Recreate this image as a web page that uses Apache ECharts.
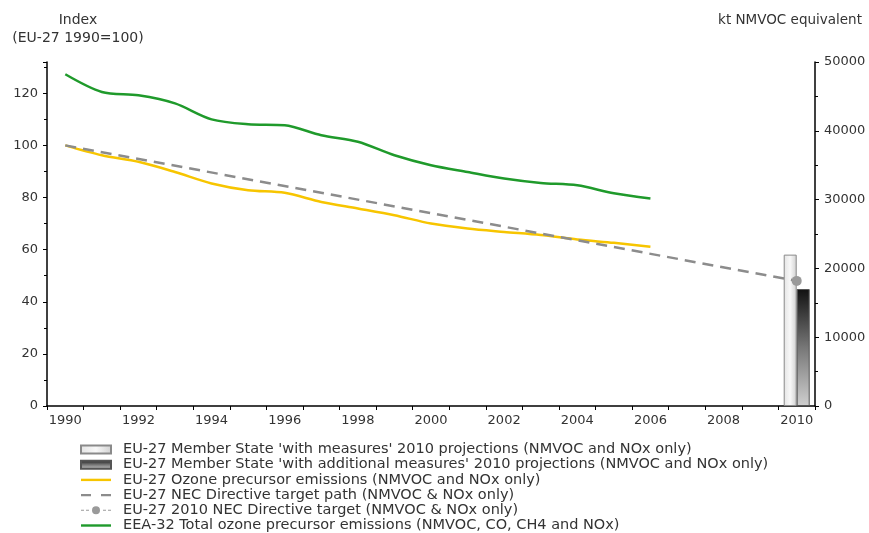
<!DOCTYPE html>
<html>
<head>
<meta charset="utf-8">
<script src="https://cdn.jsdelivr.net/npm/echarts@6/dist/echarts.min.js"></script>
<style>
  html, body { margin: 0; padding: 0; background: #fff; }
  #chart { width: 869px; height: 533px; }
</style>
</head>
<body>
<div id="chart"></div>
<script>
// Years on the category axis
var years = ['1990','1991','1992','1993','1994','1995','1996','1997','1998','1999','2000',
             '2001','2002','2003','2004','2005','2006','2007','2008','2009','2010'];

// Index series (EU-27 1990 = 100)
var ozoneEu27 = [100, 96.2, 93.7, 89.8, 85.4, 82.8, 81.8, 78.3, 75.8, 73.2, 70.0,
                 68.1, 66.8, 65.6, 63.9, 62.6, 61.1, null, null, null, null];
var totalEea32 = [127.3, 120.5, 119.2, 116.1, 110.0, 108.1, 107.7, 103.9, 101.4, 96.2, 92.4,
                  89.8, 87.3, 85.6, 84.7, 81.6, 79.6, null, null, null, null];
// NEC target path: straight line from the 1990 base to the 2010 target
var necPath = [100, null, null, null, null, null, null, null, null, null, null,
               null, null, null, null, null, null, null, null, null, 48];
var necTarget2010 = [null, null, null, null, null, null, null, null, null, null, null,
                     null, null, null, null, null, null, null, null, null, 48];

// 2010 projections (kt NMVOC equivalent)
var withMeasures = [null, null, null, null, null, null, null, null, null, null, null,
                    null, null, null, null, null, null, null, null, null, 22000];
var withAdditional = [null, null, null, null, null, null, null, null, null, null, null,
                      null, null, null, null, null, null, null, null, null, 17000];

var names = {
  wm: "EU-27 Member State 'with measures' 2010 projections (NMVOC and NOx only)",
  wam: "EU-27 Member State 'with additional measures' 2010 projections (NMVOC and NOx only)",
  ozone: "EU-27 Ozone precursor emissions (NMVOC and NOx only)",
  path: "EU-27 NEC Directive target path (NMVOC & NOx only)",
  target: "EU-27 2010 NEC Directive target (NMVOC & NOx only)",
  total: "EEA-32 Total ozone precursor emissions (NMVOC, CO, CH4 and NOx)"
};

var font = 'DejaVu Sans';
var txt = '#333';
var cYellow = '#f7c500', cGreen = '#1f9a2b', cPath = '#8c8c8c', cTarget = '#9a9a9a';

// Legend icons on a 30x8 box (the two leading moves pin the box size)
var iconSolid = 'path://M0,0M30,8M0,2.8h30v2.4h-30z';
var iconDashed = 'path://M0,0M30,8M0,2.8h10v2.4h-10zM20,2.8h10v2.4h-10z';
var iconTarget = 'path://M0,0M30,8M0,3.5h3v1h-3zM5,3.5h3v1h-3zM22,3.5h3v1h-3zM27,3.5h3v1h-3z' +
                 'M11,4a4,4 0 1,0 8,0a4,4 0 1,0 -8,0z';

var chart = echarts.init(document.getElementById('chart'));
chart.setOption({
  animation: false,
  backgroundColor: '#fff',
  title: [
    { text: 'Index\n(EU-27 1990=100)', left: 78, top: 11, padding: 0, textAlign: 'center',
      textStyle: { fontFamily: font, fontSize: 14, fontWeight: 'normal', color: txt, lineHeight: 18, align: 'center' } },
    { text: 'kt NMVOC equivalent', left: 790, top: 11, padding: 0, textAlign: 'center',
      textStyle: { fontFamily: font, fontSize: 13.5, fontWeight: 'normal', color: txt, lineHeight: 18 } }
  ],
  grid: { left: 47, right: 54, top: 62, bottom: 127, containLabel: false },
  legend: {
    orient: 'vertical', left: 80, top: 442, height: 120, padding: 0,
    itemWidth: 30, itemHeight: 8, itemGap: 0.2,
    textStyle: { fontFamily: font, fontSize: 14.5, color: txt, lineHeight: 15, padding: [0, 0, 0, 7] },
    data: [
      { name: names.wm, icon: 'rect' },
      { name: names.wam, icon: 'rect' },
      { name: names.ozone, icon: iconSolid, itemStyle: { color: cYellow, borderWidth: 0 } },
      { name: names.path, icon: iconDashed, itemStyle: { color: cPath, borderWidth: 0 } },
      { name: names.target, icon: iconTarget, itemStyle: { color: cTarget, borderWidth: 0 } },
      { name: names.total, icon: iconSolid, itemStyle: { color: cGreen, borderWidth: 0 } }
    ]
  },
  xAxis: {
    type: 'category', data: years, boundaryGap: true,
    axisLine: { lineStyle: { color: '#000', width: 1.5 } },
    axisTick: { show: true, interval: 0, length: 4, lineStyle: { color: '#000' } },
    axisLabel: { interval: 1, fontFamily: font, fontSize: 13, color: txt, margin: 8 }
  },
  yAxis: [
    { type: 'value', min: 0, max: 132, interval: 20,
      axisLine: { show: true, lineStyle: { color: '#000', width: 1.5 } },
      axisTick: { show: true, length: 4, lineStyle: { color: '#000' } },
      minorTick: { show: true, splitNumber: 2, length: 3, lineStyle: { color: '#000' } },
      splitLine: { show: false },
      axisLabel: { showMaxLabel: false, fontFamily: font, fontSize: 13, color: txt, margin: 9 } },
    { type: 'value', min: 0, max: 50000, interval: 10000, position: 'right',
      axisLine: { show: true, lineStyle: { color: '#000', width: 1.5 } },
      axisTick: { show: true, length: 4, lineStyle: { color: '#000' } },
      minorTick: { show: true, splitNumber: 2, length: 3, lineStyle: { color: '#000' } },
      splitLine: { show: false },
      axisLabel: { fontFamily: font, fontSize: 13, color: txt, margin: 9,
                   formatter: function (v) { return String(v); } } }
  ],
  series: [
    { name: names.wm, type: 'bar', yAxisIndex: 1, data: withMeasures,
      barWidth: 13, barGap: '0%',
      itemStyle: {
        color: new echarts.graphic.LinearGradient(0, 0, 1, 0, [
          { offset: 0, color: '#e4e4e4' }, { offset: 0.5, color: '#f8f8f8' }, { offset: 1, color: '#d0d0d0' }]),
        borderColor: '#8a8a8a', borderWidth: 1
      } },
    { name: names.wam, type: 'bar', yAxisIndex: 1, data: withAdditional,
      barWidth: 13, barGap: '0%',
      itemStyle: {
        color: new echarts.graphic.LinearGradient(0, 0, 0, 1, [
          { offset: 0, color: '#111' }, { offset: 0.5, color: '#777' }, { offset: 1, color: '#cfcfcf' }]),
        borderColor: '#555', borderWidth: 1
      } },
    { name: names.ozone, type: 'line', data: ozoneEu27, smooth: 0.3, symbol: 'none',
      lineStyle: { color: cYellow, width: 2.5 }, itemStyle: { color: cYellow } },
    { name: names.path, type: 'line', data: necPath, connectNulls: true, symbol: 'none',
      lineStyle: { color: cPath, width: 2.5, type: [11, 7] }, itemStyle: { color: cPath } },
    { name: names.target, type: 'line', data: necTarget2010, symbol: 'circle', symbolSize: 10,
      lineStyle: { color: '#bdbdbd', width: 1.5, type: [4, 3] },
      itemStyle: { color: cTarget }, z: 5 },
    { name: names.total, type: 'line', data: totalEea32, smooth: 0.3, symbol: 'none',
      lineStyle: { color: cGreen, width: 2.5 }, itemStyle: { color: cGreen } }
  ]
});
</script>
</body>
</html>
